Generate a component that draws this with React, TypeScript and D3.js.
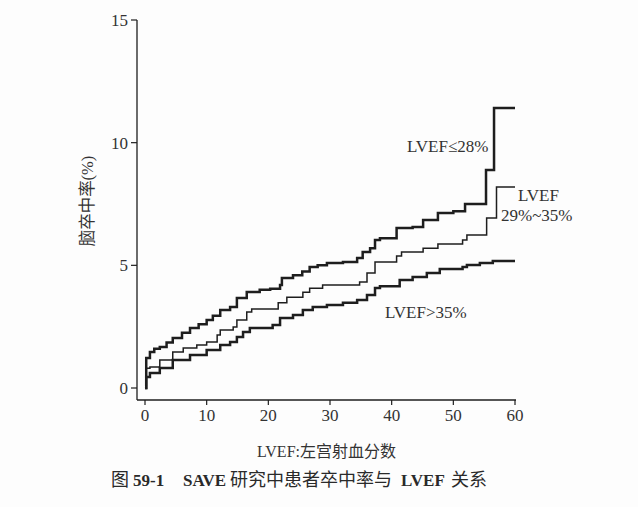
import React from "react";
import * as d3 from "d3";

// Months since randomisation (x) and cumulative stroke rate % (y)
const xTicks = [0, 10, 20, 30, 40, 50, 60];
const yTicks = [0, 5, 10, 15];

const lowMonths = [0, 0.2, 0.8, 1.5, 2.4, 3.5, 4.5, 6, 7.3, 8.7, 10, 11, 12.2, 13.8, 14.9, 16.5, 18.6, 20.3, 21.9, 22.2, 24, 25.5, 26.7, 28, 29.5, 32.1, 34.4, 35.3, 36.5, 37.3, 38.1, 40.8, 43.4, 45.1, 47.5, 50, 51.9, 55.3, 56.6, 60];
const lowRates = [0, 1.22, 1.47, 1.6, 1.67, 1.85, 2.04, 2.25, 2.45, 2.6, 2.77, 2.95, 3.18, 3.3, 3.67, 3.91, 4.0, 4.05, 4.2, 4.48, 4.6, 4.75, 4.93, 5.0, 5.1, 5.14, 5.3, 5.54, 5.7, 6.03, 6.1, 6.52, 6.56, 6.85, 7.13, 7.2, 7.5, 8.89, 11.41, 11.41];

const midMonths = [0, 0.2, 0.8, 2.4, 4.5, 6.2, 8.4, 10, 11.7, 12.2, 14.3, 14.9, 16.5, 17.3, 21.6, 23, 25.6, 26.7, 28.8, 34.8, 36, 37.3, 40.8, 41.6, 45.1, 47.5, 51.5, 52.2, 55.4, 57, 60];
const midRates = [0, 0.8, 0.86, 1.14, 1.47, 1.63, 1.75, 1.88, 2.16, 2.36, 2.49, 2.77, 3.1, 3.22, 3.47, 3.7, 3.9, 4.07, 4.2, 4.32, 4.69, 5.14, 5.38, 5.54, 5.7, 5.87, 6.03, 6.24, 6.93, 8.19, 8.19];

const highMonths = [0, 0.2, 0.8, 2.4, 4.5, 7.3, 10, 12.2, 13.8, 14.9, 15.9, 17, 20.7, 21.9, 24, 25.6, 27.2, 29.5, 32.1, 34.4, 36, 37.3, 38.1, 41.3, 43.4, 45.7, 47.8, 51.5, 52.2, 54.3, 56.4, 60];
const highRates = [0, 0.45, 0.61, 0.82, 1.14, 1.35, 1.55, 1.75, 1.88, 2.08, 2.28, 2.45, 2.57, 2.85, 2.98, 3.18, 3.3, 3.38, 3.47, 3.59, 3.79, 4.08, 4.15, 4.4, 4.52, 4.69, 4.85, 4.93, 5.01, 5.1, 5.18, 5.18];

const seriesNames = ["LVEF≤28%", "LVEF 29%~35%", "LVEF>35%"];

const SERIF = "'Liberation Serif', 'DejaVu Serif', serif";
const CJK = "'Noto Sans CJK SC', 'Noto Sans', sans-serif";
const INK = "#1e1e1e";

export default function App() {
  const W = 638, H = 507;
  const x = d3.scaleLinear().domain([0, 60]).range([145, 515]);
  const y = d3.scaleLinear().domain([0, 15]).range([388, 20]);
  const axisY = 400;
  const axisX = 137;

  const line = d3
    .line<[number, number]>()
    .x((d) => x(d[0]))
    .y((d) => y(d[1]))
    .curve(d3.curveStepAfter);

  const series = [
    { pts: lowMonths.map((m, i) => [m, lowRates[i]] as [number, number]), w: 2.5 },
    { pts: midMonths.map((m, i) => [m, midRates[i]] as [number, number]), w: 1.5 },
    { pts: highMonths.map((m, i) => [m, highRates[i]] as [number, number]), w: 2.5 },
  ];

  return (
    <svg
      width={W}
      height={H}
      viewBox={`0 0 ${W} ${H}`}
      style={{ position: "absolute", left: 0, top: 0, background: "#fff" }}
    >
      <rect x={0} y={0} width={W} height={H} fill="#fdfdfd" />
      {/* axes */}
      <line x1={axisX} y1={y(15)} x2={axisX} y2={axisY} stroke={INK} strokeWidth={1.3} />
      <line x1={axisX} y1={axisY} x2={x(60) + 1} y2={axisY} stroke={INK} strokeWidth={1.3} />
      {yTicks.map((t) => (
        <g key={"y" + t}>
          <line x1={axisX - 6} x2={axisX} y1={y(t)} y2={y(t)} stroke={INK} strokeWidth={1.2} />
          <text
            x={axisX - 9}
            y={y(t)}
            dy="0.35em"
            textAnchor="end"
            fontFamily={SERIF}
            fontSize={17}
            fill="#333"
          >
            {t}
          </text>
        </g>
      ))}
      {xTicks.map((t) => (
        <g key={"x" + t}>
          <line x1={x(t)} x2={x(t)} y1={axisY} y2={axisY + 5} stroke={INK} strokeWidth={1.2} />
          <text
            x={x(t)}
            y={axisY + 21}
            textAnchor="middle"
            fontFamily={SERIF}
            fontSize={17}
            fill="#333"
          >
            {t}
          </text>
        </g>
      ))}

      {/* curves */}
      {series.map((s, i) => (
        <path
          key={i}
          d={line(s.pts) || ""}
          fill="none"
          stroke={INK}
          strokeWidth={s.w}
          strokeLinejoin="miter"
        />
      ))}

      {/* series labels */}
      <text x={407} y={152} fontFamily={SERIF} fontSize={17} fill="#333">
        {seriesNames[0]}
      </text>
      <text x={518} y={201} fontFamily={SERIF} fontSize={17} fill="#333">
        {seriesNames[1].split(" ")[0]}
      </text>
      <text x={501} y={221} fontFamily={SERIF} fontSize={17} fill="#333">
        {seriesNames[1].split(" ")[1]}
      </text>
      <text x={385} y={318} fontFamily={SERIF} fontSize={17} fill="#333">
        {seriesNames[2]}
      </text>

      {/* y-axis title */}
      <text
        transform={`translate(93, 201) rotate(-90)`}
        textAnchor="middle"
        fontSize={16.5}
        fill="#333"
      >
        <tspan fontFamily={CJK}>脑卒中率</tspan>
        <tspan fontFamily={SERIF}>(%)</tspan>
      </text>

      {/* x-axis title */}
      <text x={257} y={457} fontSize={16} fill="#333">
        <tspan fontFamily={SERIF}>LVEF:</tspan>
        <tspan fontFamily={CJK}>左宫射血分数</tspan>
      </text>

      {/* caption */}
      <text y={486} fontSize={17} fill="#2a2a2a">
        <tspan x={111} fontFamily={CJK} fontSize={18}>图</tspan>
        <tspan x={133} fontFamily={SERIF} fontWeight="bold">59-1</tspan>
        <tspan x={183} fontFamily={SERIF} fontWeight="bold">SAVE</tspan>
        <tspan x={230} fontFamily={CJK} fontSize={18}>研究中患者卒中率与</tspan>
        <tspan x={401} fontFamily={SERIF} fontWeight="bold">LVEF</tspan>
        <tspan x={451} fontFamily={CJK} fontSize={18}>关系</tspan>
      </text>
    </svg>
  );
}
